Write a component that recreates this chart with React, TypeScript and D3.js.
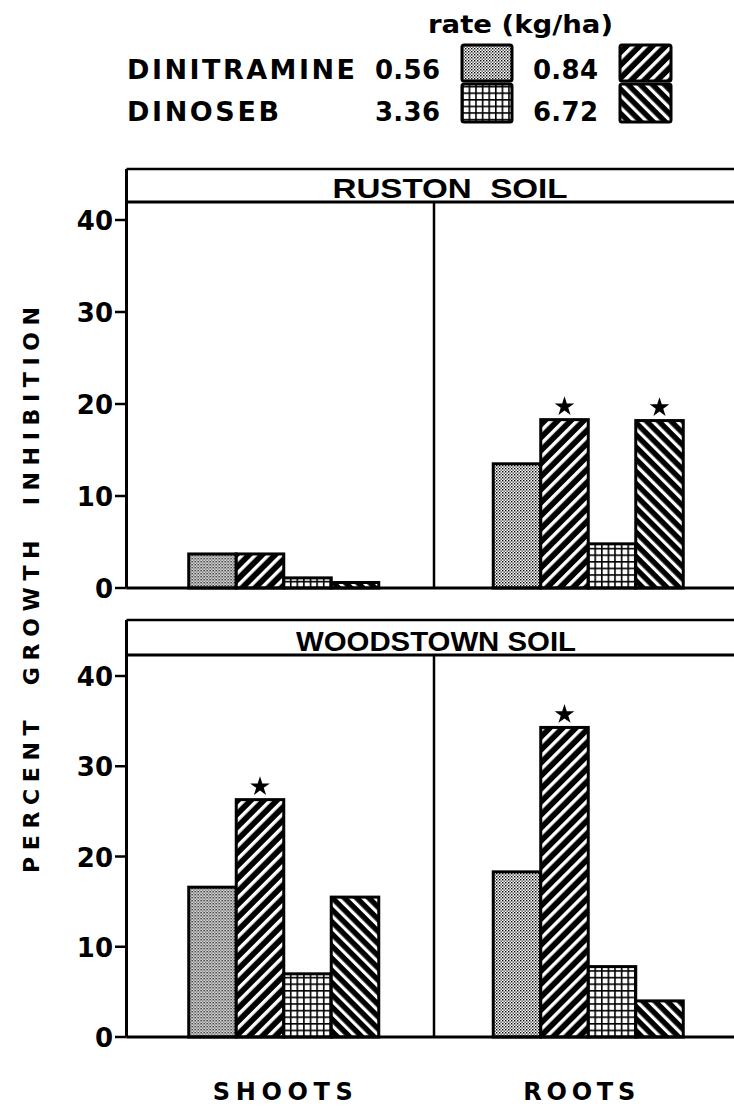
import React from 'react';
import * as d3 from 'd3';

const categories = ['SHOOTS', 'ROOTS'];
const seriesKeys = ['dinitramine056', 'dinitramine084', 'dinoseb336', 'dinoseb672'];
const seriesPatterns = ['stipple', 'fwd', 'grid', 'back'];
const rustonShoots = [3.7, 3.7, 1.1, 0.6];
const rustonRoots = [13.5, 18.3, 4.8, 18.2];
const woodstownShoots = [16.6, 26.3, 7.0, 15.5];
const woodstownRoots = [18.3, 34.3, 7.8, 4.0];
const rustonSignificant = [[false, false, false, false], [false, true, false, true]];
const woodstownSignificant = [[false, true, false, false], [false, true, false, false]];
const yTicks = [0, 10, 20, 30, 40];
const legendHerbicides = ['DINITRAMINE', 'DINOSEB'];
const legendRatesLow = ['0.56', '3.36'];
const legendRatesHigh = ['0.84', '6.72'];

const FONT = '"DejaVu Sans", "Liberation Sans", Arial, sans-serif';
const FONT_NARROW = '"Liberation Sans", Arial, Helvetica, sans-serif';

const panels = [
  { title: 'RUSTON  SOIL', titleX: 450, titleLen: 235, values: [rustonShoots, rustonRoots], sig: rustonSignificant, frameTop: 169, headerBottom: 202, base: 588, top40: 220 },
  { title: 'WOODSTOWN SOIL', titleX: 436, titleLen: 280, values: [woodstownShoots, woodstownRoots], sig: woodstownSignificant, frameTop: 620, headerBottom: 655, base: 1037, top40: 676 },
];

const frameLeft = 126.5;
const frameRight = 745;
const labelShift = [-1, -9];

export default function App() {
  const x0 = d3.scaleBand<string>().domain(categories).range([131.5, 740.5]).padding(0);
  const x1 = d3.scaleBand<string>().domain(seriesKeys).range([0, x0.bandwidth()]).paddingInner(0).paddingOuter(1.205);
  const star = d3.symbol().type(d3.symbolStar).size(120)() as string;

  return (
    <svg width={734} height={1108} style={{ position: 'absolute', left: 0, top: 0, background: '#fff' }} fontFamily={FONT}>
      <defs>
        <pattern id="stipple" patternUnits="userSpaceOnUse" width={3} height={3}>
          <rect width={3} height={3} fill="#fff" />
          <rect x={0} y={0} width={1.4} height={1.4} fill="#000" />
          <rect x={1.5} y={1.5} width={1.3} height={1.3} fill="#222" />
        </pattern>
        <pattern id="fwd" patternUnits="userSpaceOnUse" width={9.2} height={20} patternTransform="rotate(45)">
          <rect width={9.2} height={20} fill="#000" />
          <rect x={0} y={0} width={3.4} height={20} fill="#fff" />
        </pattern>
        <pattern id="back" patternUnits="userSpaceOnUse" width={8.6} height={20} patternTransform="rotate(-45)">
          <rect width={8.6} height={20} fill="#000" />
          <rect x={0} y={0} width={3.2} height={20} fill="#fff" />
        </pattern>
        <pattern id="grid" patternUnits="userSpaceOnUse" width={6.6} height={6.6}>
          <rect width={6.6} height={6.6} fill="#fff" />
          <rect x={0} y={0} width={6.6} height={1.6} fill="#000" />
          <rect x={0} y={0} width={1.6} height={6.6} fill="#000" />
        </pattern>
      </defs>

      {/* Legend */}
      <text x={428} y={33} fontSize={24} fontWeight="bold" textLength={185} lengthAdjust="spacingAndGlyphs">rate (kg/ha)</text>
      {legendHerbicides.map((h, i) => {
        const by = i === 0 ? 45 : 84;
        const bh = i === 0 ? 36 : 38;
        const ty = i === 0 ? 79 : 121;
        return (
          <g key={h}>
            <text x={127} y={ty} fontSize={27} fontWeight="bold" textLength={i === 0 ? 228 : 152} lengthAdjust="spacing">{h}</text>
            <text x={375} y={ty} fontSize={26} fontWeight="bold" textLength={65} lengthAdjust="spacing">{legendRatesLow[i]}</text>
            <rect x={462} y={by} width={50} height={bh} fill={`url(#${seriesPatterns[i === 0 ? 0 : 2]})`} stroke="#000" strokeWidth={3} rx={2} />
            <text x={533} y={ty} fontSize={26} fontWeight="bold" textLength={65} lengthAdjust="spacing">{legendRatesHigh[i]}</text>
            <rect x={620} y={by} width={51} height={bh} fill={`url(#${seriesPatterns[i === 0 ? 1 : 3]})`} stroke="#000" strokeWidth={3} rx={2} />
          </g>
        );
      })}

      {panels.map((p) => {
        const y = d3.scaleLinear().domain([0, 40]).range([p.base, p.top40]);
        const divX = (x0('ROOTS') as number) - 2;
        return (
          <g key={p.title}>
            {/* header box */}
            <line x1={frameLeft} x2={frameRight} y1={p.frameTop} y2={p.frameTop} stroke="#000" strokeWidth={2.5} />
            <line x1={frameLeft} x2={frameRight} y1={p.headerBottom} y2={p.headerBottom} stroke="#000" strokeWidth={3} />
            <line x1={frameLeft} x2={frameLeft} y1={p.frameTop} y2={p.base} stroke="#000" strokeWidth={3} />
            <text x={p.titleX} y={p.headerBottom - 4} fontFamily={FONT_NARROW} fontSize={28} fontWeight="bold" textAnchor="middle" textLength={p.titleLen} lengthAdjust="spacingAndGlyphs" style={{ whiteSpace: 'pre' }}>{p.title}</text>
            {/* divider */}
            <line x1={divX} x2={divX} y1={p.headerBottom} y2={p.base} stroke="#000" strokeWidth={2.5} />
            {/* y ticks */}
            {yTicks.map((t) => (
              <g key={t}>
                <line x1={115} x2={frameLeft} y1={y(t)} y2={y(t)} stroke="#000" strokeWidth={2.5} />
                <text x={113} y={y(t) + 10} fontSize={26} fontWeight="bold" textAnchor="end">{t}</text>
              </g>
            ))}
            {/* bars */}
            {categories.map((c, ci) => (
              <g key={c} transform={`translate(${x0(c)},0)`}>
                {seriesKeys.map((s, si) => {
                  const v = p.values[ci][si];
                  const bx = x1(s) as number;
                  const bw = x1.bandwidth();
                  return (
                    <g key={s}>
                      <rect x={bx} y={y(v)} width={bw} height={p.base - y(v)} fill={`url(#${seriesPatterns[si]})`} stroke="#000" strokeWidth={3} />
                      {p.sig[ci][si] && (
                        <path d={star} transform={`translate(${bx + bw / 2},${y(v) - 13})`} fill="#000" />
                      )}
                    </g>
                  );
                })}
              </g>
            ))}
            {/* baseline */}
            <line x1={frameLeft} x2={frameRight} y1={p.base} y2={p.base} stroke="#000" strokeWidth={3} />
          </g>
        );
      })}

      {/* Y axis title */}
      <text transform="translate(39,590) rotate(-90)" fontSize={22} fontWeight="bold" textAnchor="middle" textLength={566} lengthAdjust="spacing" style={{ whiteSpace: 'pre' }}>PERCENT  GROWTH  INHIBITION</text>

      {/* category labels */}
      {categories.map((c, ci) => (
        <text key={c} x={(x0(c) as number) + x0.bandwidth() / 2 + labelShift[ci]} y={1100} fontSize={24} fontWeight="bold" textAnchor="middle" textLength={c === 'SHOOTS' ? 140 : 112} lengthAdjust="spacing">{c}</text>
      ))}
    </svg>
  );
}
